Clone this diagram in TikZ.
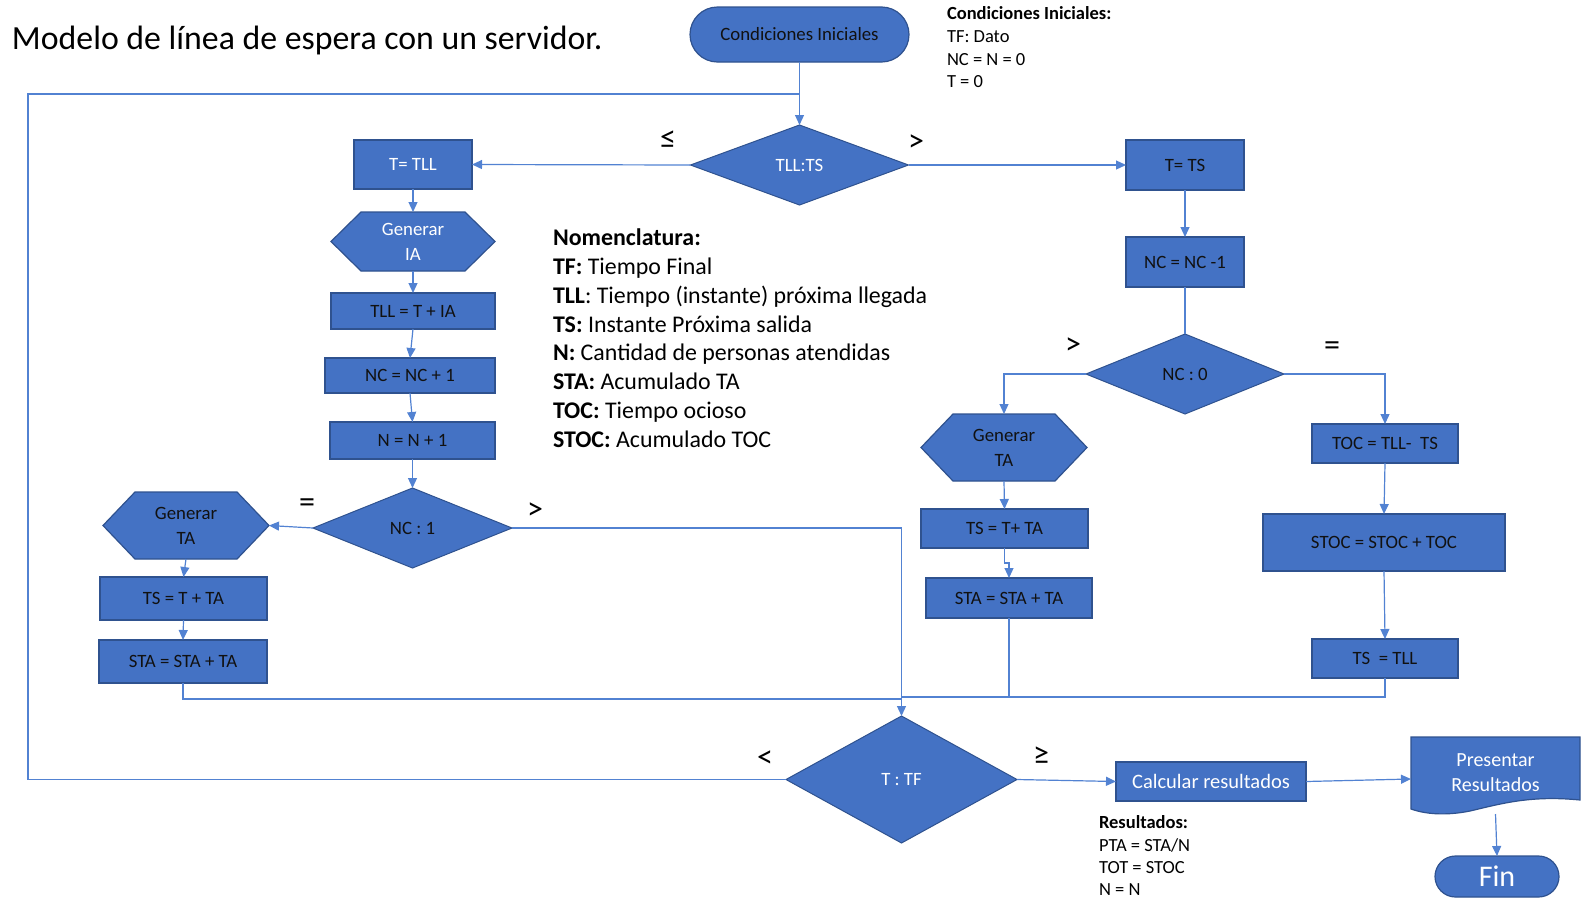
\documentclass[tikz,border=0pt]{standalone}
\usepackage{fontspec}
\setmainfont{Carlito}
\usetikzlibrary{shapes.geometric,arrows.meta,calc}
\definecolor{ofblue}{HTML}{4472C4}
\definecolor{ofdark}{HTML}{2F528F}
\definecolor{ofline}{HTML}{5282D2}
\definecolor{txtdark}{HTML}{111111}
\pgfdeclarelayer{bg}
\pgfsetlayers{bg,main}
\newcommand\hexbg[2]{%
  \begin{pgfonlayer}{bg}
  \filldraw[hexshape] (#1.west) -- ($(#1.north west)+(#2,0)$) -- ($(#1.north east)+(-#2,0)$) -- (#1.east) -- ($(#1.south east)+(-#2,0)$) -- ($(#1.south west)+(#2,0)$) -- cycle;
  \end{pgfonlayer}}
\begin{document}
\begin{tikzpicture}[x=1pt,y=-1pt,
  every node/.style={inner sep=0pt, outer sep=0pt},
  boxnode/.style={rectangle, fill=ofblue, draw=ofdark, line width=1.2pt, font=\fontsize{18.8}{22}\selectfont, text=txtdark},
  dia/.style={diamond, fill=ofblue, draw=ofdark, line width=1pt, font=\fontsize{18.8}{22}\selectfont, text=txtdark},
  term/.style={rectangle, fill=ofblue, draw=ofdark, line width=1.2pt, text=txtdark},
  hexnode/.style={rectangle, align=center, font=\fontsize{18.8}{25}\selectfont, text=txtdark},
  hexshape/.style={fill=ofblue, draw=ofdark, line width=1.2pt},
  conn/.style={draw=ofline, line width=1.2pt},
  arr/.style={conn, -{Triangle[length=10pt,width=9pt]}},
  wt/.style={text=white},
  sym/.style={font=\fontsize{32}{32}\selectfont},
]
\useasboundingbox (0,0) rectangle (1589,919);

% title and text blocks
\node[anchor=west, font=\fontsize{33.8}{40}\selectfont] (title) at (12,40) {Modelo de línea de espera con un servidor.};
\node[anchor=north west, align=left, font=\fontsize{18.5}{22.6}\selectfont] (ci) at (947,7)
  {\textbf{Condiciones Iniciales:}\\TF: Dato\\NC = N = 0\\T = 0};
\node[anchor=north west, align=left, font=\fontsize{23.9}{28.8}\selectfont] (nom) at (553,229)
  {\textbf{Nomenclatura:}\\\textbf{TF:} Tiempo Final\\\textbf{TLL}: Tiempo (instante) próxima llegada\\\textbf{TS:} Instante Próxima salida\\\textbf{N:} Cantidad de personas atendidas\\\textbf{STA:} Acumulado TA\\\textbf{TOC:} Tiempo ocioso\\\textbf{STOC:} Acumulado TOC};
\node[anchor=north west, align=left, font=\fontsize{18.5}{22.3}\selectfont] (res) at (1099,816)
  {\textbf{Resultados:}\\PTA = STA/N\\TOT = STOC\\N = N};

% flow nodes
\node[term, rounded corners=27.5pt, minimum width=219, minimum height=55, font=\fontsize{18.8}{22}\selectfont] (start) at (799.5,34.5) {Condiciones Iniciales};
\node[dia, wt, minimum width=218, minimum height=80] (d1) at (799.5,165) {TLL:TS};
\node[boxnode, wt, minimum width=118, minimum height=49] (tll) at (413,164.5) {T= TLL};
\node[hexnode, wt, minimum width=164, minimum height=59] (gia) at (413,241.5) {Generar\\IA};
\hexbg{gia}{30}
\node[boxnode, minimum width=164, minimum height=36] (b1) at (413,311) {TLL = T + IA};
\node[boxnode, minimum width=170, minimum height=35] (b2) at (410,375.5) {NC = NC + 1};
\node[boxnode, minimum width=165, minimum height=37] (b3) at (412.5,440.5) {N = N + 1};
\node[dia, minimum width=199, minimum height=80] (d2) at (412.5,528) {NC : 1};
\node[hexnode, minimum width=166, minimum height=67] (gta1) at (186,525.5) {Generar\\TA};
\hexbg{gta1}{32}
\node[boxnode, minimum width=167, minimum height=43] (b4) at (183.5,598.5) {TS = T + TA};
\node[boxnode, minimum width=168, minimum height=43] (b5) at (183,661.5) {STA = STA + TA};

\node[boxnode, minimum width=118, minimum height=50] (ts) at (1185,165) {T= TS};
\node[boxnode, minimum width=118, minimum height=50] (b6) at (1185,262) {NC = NC -1};
\node[dia, minimum width=198, minimum height=80] (d3) at (1185,374) {NC : 0};
\node[hexnode, minimum width=166, minimum height=67] (gta2) at (1004,447.5) {Generar\\TA};
\hexbg{gta2}{32}
\node[boxnode, minimum width=167, minimum height=39] (b7) at (1004.5,528.5) {TS = T+ TA};
\node[boxnode, minimum width=166, minimum height=40] (b8) at (1009,598) {STA = STA + TA};
\node[boxnode, minimum width=146, minimum height=39] (b9) at (1385,443.5) {TOC = TLL-\ \ TS};
\node[boxnode, minimum width=242, minimum height=57] (b10) at (1384,542.5) {STOC = STOC + TOC};
\node[boxnode, minimum width=146, minimum height=39] (b11) at (1385,658.5) {TS\ \ = TLL};

\node[dia, wt, minimum width=231, minimum height=127] (d4) at (901.5,779.5) {T : TF};
\node[boxnode, wt, minimum width=190, minimum height=39, font=\fontsize{20.5}{24}\selectfont] (calc) at (1211,781.5) {Calcular resultados};
\node[rectangle, align=center, text=white, minimum width=169, minimum height=72, font=\fontsize{20}{25}\selectfont] (pres) at (1495.5,773) {Presentar\\Resultados};
\begin{pgfonlayer}{bg}
\filldraw[hexshape] (pres.north west) -- (pres.north east) -- ($(pres.south east)+(0,-9)$)
  .. controls ($(pres.south east)+(-50,-14)$) and ($(pres.south east)+(-80,-5)$) .. ($(pres.south west)+(59,2)$)
  .. controls ($(pres.south west)+(34,7)$) and ($(pres.south west)+(14,5)$) .. (pres.south west) -- cycle;
\end{pgfonlayer}
\node[term, wt, rounded corners=20.5pt, minimum width=124, minimum height=41, font=\fontsize{30}{32}\selectfont] (fin) at (1497,876.5) {Fin};

% branch symbols
\node[sym] (le1) at (668,140) {≤};
\node[sym] (gt1) at (916,143) {>};
\node[sym] (eq1) at (307,506) {=};
\node[sym] (gt2) at (535,511) {>};
\node[sym] (gt3) at (1073,346) {>};
\node[sym] (eq2) at (1332,349) {=};
\node[sym] (lt1) at (765,759) {<};
\node[sym] (ge1) at (1041,756) {≥};

% junction coordinates
\coordinate (jtop) at (799.5,94);
\coordinate (lcorner) at (28,94);
\coordinate (jb) at (901.5,699);
\coordinate (jr) at (901.5,697);

% connectors
\draw[arr] (start.south) -- (d1.north);
\draw[conn] (d4.west) -| (lcorner) -- (jtop);
\draw[arr] (d1.west) -- (tll.east);
\draw[arr] (d1.east) -- (ts.west);
\draw[arr] (tll.south) -- (gia.north);
\draw[arr] (gia.south) -- (b1.north);
\draw[arr] (b1.south) -- (b2.north);
\draw[arr] (b2.south) -- (b3.north);
\draw[arr] (b3.south) -- (d2.north);
\draw[arr] (d2.west) -- (gta1.east);
\draw[arr] (gta1.south) -- (b4.north);
\draw[arr] (b4.south) -- (b5.north);
\draw[conn] (b5.south) |- (jb);
\draw[arr] (d2.east) -| (d4.north);
\draw[arr] (ts.south) -- (b6.north);
\draw[conn] (b6.south) -- (d3.north);
\draw[arr] (d3.west) -| (gta2.north);
\draw[arr] (d3.east) -| (b9.north);
\draw[arr] (gta2.south) -- (b7.north);
\draw[arr] (b7.south) -- ++(0,15) -| (b8.north);
\draw[arr] (b9.south) -- (b10.north);
\draw[arr] (b10.south) -- (b11.north);
\draw[conn] (b11.south) |- (jr);
\draw[conn] (b8.south) -- (b8.south |- jr);
\draw[arr] (d4.east) -- (calc.west);
\draw[arr] (calc.east) -- ($(pres.west)+(0,6)$);
\draw[arr] ($(pres.south)+(0,5)$) -- (fin.north);
\end{tikzpicture}
\end{document}
